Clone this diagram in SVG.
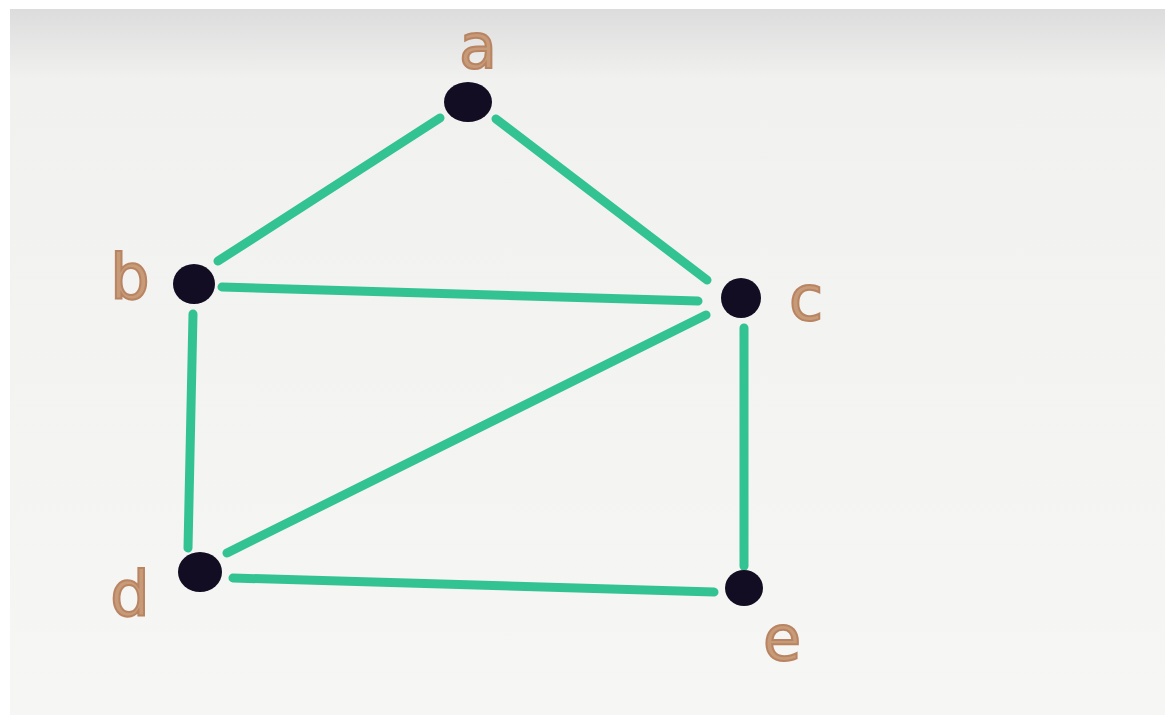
<svg xmlns="http://www.w3.org/2000/svg" width="1165" height="721" viewBox="0 0 1165 721">
<defs>
<linearGradient id="bg" x1="0" y1="0" x2="0" y2="1">
<stop offset="0" stop-color="#dcdcdc"/>
<stop offset="0.1" stop-color="#f1f1f0"/>
<stop offset="1" stop-color="#f6f6f4"/>
</linearGradient>
<style>
.edge{stroke:#33c393;stroke-width:9;stroke-linecap:round;fill:none}
.node{fill:#120d22}
.lbl{font-family:"DejaVu Sans","Liberation Sans",sans-serif;font-size:62px;fill:#c79a78;stroke:#b98462;stroke-width:2;text-anchor:middle}
</style>
</defs>
<rect width="1165" height="721" fill="#ffffff"/>
<rect x="10" y="9" width="1155" height="706" fill="url(#bg)"/>
<g id="connectors">
<line class="edge" x1="440" y1="118" x2="218" y2="261"/>
<line class="edge" x1="496" y1="119" x2="707" y2="280"/>
<line class="edge" x1="222" y1="287" x2="698" y2="301"/>
<line class="edge" x1="706" y1="315" x2="227" y2="553"/>
<line class="edge" x1="193" y1="314" x2="188" y2="548"/>
<line class="edge" x1="744" y1="328" x2="744" y2="566"/>
<line class="edge" x1="233" y1="578" x2="714" y2="592"/>
</g>
<g id="node-a"><ellipse class="node" cx="468" cy="102" rx="24" ry="20"/><text class="lbl" x="478" y="68">a</text></g>
<g id="node-b"><ellipse class="node" cx="194" cy="284" rx="21" ry="20"/><text class="lbl" x="130" y="298">b</text></g>
<g id="node-c"><ellipse class="node" cx="741" cy="298" rx="20" ry="20"/><text class="lbl" x="806" y="320">c</text></g>
<g id="node-d"><ellipse class="node" cx="200" cy="572" rx="22" ry="20"/><text class="lbl" x="130" y="615">d</text></g>
<g id="node-e"><ellipse class="node" cx="744" cy="588" rx="19" ry="18"/><text class="lbl" x="782" y="660">e</text></g>
</svg>
